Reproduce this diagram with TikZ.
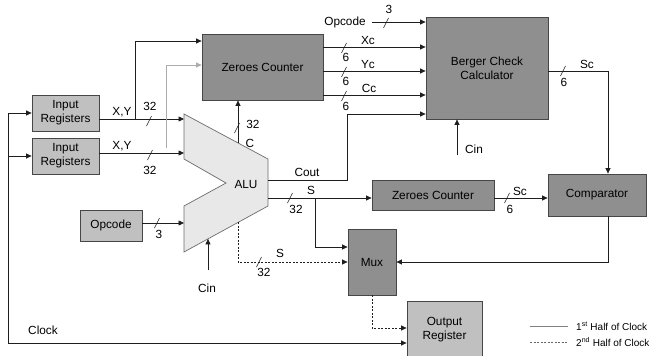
\documentclass[tikz,border=0pt]{standalone}
\usepackage{fontspec}
\setmainfont{Liberation Sans}
\usetikzlibrary{arrows.meta,calc}
\definecolor{dbox}{RGB}{143,143,143}
\definecolor{lbox}{RGB}{192,192,192}
\definecolor{alufill}{RGB}{232,232,232}
\definecolor{edge}{RGB}{70,70,70}
\definecolor{wirec}{RGB}{30,30,30}
\begin{document}
\begin{tikzpicture}[x=1pt,y=-1pt, font=\fontsize{11.8}{14}\selectfont,
 dark/.style={draw=edge, fill=dbox, inner sep=0pt, align=center, line width=0.8pt},
 light/.style={draw=edge, fill=lbox, inner sep=0pt, align=center, line width=0.8pt},
 wire/.style={draw=wirec, line width=0.7pt},
 arr/.style={wire, -{Triangle[length=5.5pt,width=5pt]}},
 dwire/.style={wire, dash pattern=on 2pt off 1.5pt},
 darr/.style={dwire, -{Triangle[length=5.5pt,width=5pt]}},
 lbl/.style={inner sep=0pt},
 busmark/.pic={\draw[wirec, line width=0.6pt] (-2.5,5) -- (2.5,-5);}
]
\useasboundingbox (0,0) rectangle (649,356);

% boxes
\node[light, minimum width=67pt, minimum height=36pt] (ir1) at (65.5,113) {Input\\Registers};
\node[light, minimum width=67pt, minimum height=36pt] (ir2) at (65.5,156) {Input\\Registers};
\node[light, minimum width=62pt, minimum height=31pt] (opc) at (111,225.5) {Opcode};
\node[dark, minimum width=121pt, minimum height=66pt] (zc1) at (262.5,67) {Zeroes Counter};
\node[dark, minimum width=122pt, minimum height=102pt] (bcc) at (487,68) {Berger Check\\Calculator};
\node[dark, minimum width=122pt, minimum height=30pt] (zc2) at (433,195) {Zeroes Counter};
\node[dark, minimum width=98pt, minimum height=42pt] (cmp) at (597,195) {Comparator};
\node[dark, minimum width=48pt, minimum height=66pt] (mux) at (372,262) {Mux};
\node[light, minimum width=75pt, minimum height=57pt] (outreg) at (444.5,329.5) {Output\\Register};

% ALU
\draw[draw=gray!85!black, fill=alufill, line width=0.7pt] (184,114) -- (268,159) -- (268,206) -- (184,252) -- (184,206) -- (226,183) -- (184,159) -- cycle;
\node[lbl] (alu) at (246,184) {ALU};
\coordinate (aluA) at (184,119);
\coordinate (aluB) at (184,153);
\coordinate (aluC) at (184,223);
\coordinate (aluCin) at (208,238.9);
\coordinate (aluCo) at (238,142.9);
\coordinate (aluCout) at (268,180);
\coordinate (aluS) at (268,198);
\coordinate (aluSd) at (238,222.4);

% clock
\coordinate (clkT) at (8,113);
\coordinate (clkM) at (8,156);
\coordinate (clkB) at (8,343);
\draw[wire] (clkB) -- (clkT);
\draw[arr] (clkT) -- (ir1.west);
\draw[arr] (clkM) -- (ir2.west);
\draw[arr] (clkB) -- (clkB -| outreg.west);
\node[lbl] (clklbl) at (43,330) {Clock};

% register outputs
\draw[arr] (ir1.east |- aluA) -- (aluA);
\coordinate (brA) at (135,119);
\coordinate (brAt) at (135,41);
\draw[arr] (brA) -- (brAt) -- (brAt -| zc1.west);
\draw[arr] (ir2.east |- aluB) -- (aluB);
\coordinate (gB) at (166,148);
\coordinate (gT) at (166,65);
\draw[arr, draw=gray!65, line width=0.8pt] (gB) -- (gT) -- (gT -| zc1.west);
\node[lbl] (xy1) at (122,112) {X,Y};
\node[lbl] (n32a) at (150,106) {32};
\pic at (149,121) {busmark};
\node[lbl] (xy2) at (122,146) {X,Y};
\node[lbl] (n32b) at (150,170) {32};
\pic at (150,155) {busmark};

% opcode to ALU
\draw[arr] (opc.east |- aluC) -- (aluC);
\pic at (157,223) {busmark};
\node[lbl] (n3a) at (159,234) {3};

% Cin ALU
\coordinate (cinA) at (208,270);
\draw[arr] (cinA) -- (aluCin);
\node[lbl] (cin1) at (207,288) {Cin};

% C to zeroes counter
\draw[arr] (aluCo) -- (aluCo |- zc1.south);
\pic at (237,128) {busmark};
\node[lbl] (n32c) at (253,124) {32};
\node[lbl] (clbl) at (250,143) {C};

% zeroes counter to Berger
\coordinate (rowXc) at (0,47);
\coordinate (rowYc) at (0,71);
\coordinate (rowCc) at (0,95);
\draw[arr] (zc1.east |- rowXc) -- (bcc.west |- rowXc);
\draw[arr] (zc1.east |- rowYc) -- (bcc.west |- rowYc);
\draw[arr] (zc1.east |- rowCc) -- (bcc.west |- rowCc);
\pic at (344,48) {busmark};
\pic at (344,72) {busmark};
\pic at (344,96) {busmark};
\node[lbl] (xc) at (368,40) {Xc};
\node[lbl] (yc) at (368,64) {Yc};
\node[lbl] (cc) at (369,88) {Cc};
\node[lbl] (n6a) at (346,57) {6};
\node[lbl] (n6b) at (346,81) {6};
\node[lbl] (n6c) at (346,106) {6};

% opcode top
\node[lbl] (opt) at (345,22) {Opcode};
\draw[arr] ([xshift=6pt]opt.east) -- (bcc.west |- opt.east);
\pic at (386,23) {busmark};
\node[lbl] (n3b) at (389,9) {3};

% Cout
\coordinate (coutK) at (347,180);
\coordinate (coutT) at (347,114);
\draw[arr] (aluCout) -- (coutK) -- (coutT) -- (coutT -| bcc.west);
\node[lbl] (cout) at (307,172) {Cout};

% S
\draw[arr] (aluS) -- (aluS -| zc2.west);
\coordinate (sBr) at (315,198);
\coordinate (sBrB) at (315,247);
\draw[arr] (sBr) -- (sBrB) -- (sBrB -| mux.west);
\pic at (290,198) {busmark};
\node[lbl] (slbl) at (311,190) {S};
\node[lbl] (n32d) at (296,209) {32};

% dashed S
\coordinate (dB) at (238,262);
\draw[darr] (aluSd) -- (dB) -- (dB -| mux.west);
\pic at (259,262) {busmark};
\node[lbl] (sdlbl) at (280,253) {S};
\node[lbl] (n32e) at (264,272) {32};

% zc2 to comparator
\draw[arr] (zc2.east |- aluS) -- (cmp.west |- aluS);
\pic at (507,198) {busmark};
\node[lbl] (sc2) at (520,191) {Sc};
\node[lbl] (n6e) at (510,209) {6};

% Berger to comparator
\coordinate (scR) at (608,71);
\draw[arr] (bcc.east |- scR) -- (scR) -- (scR |- cmp.north);
\pic at (563,71) {busmark};
\node[lbl] (sc1) at (587,64) {Sc};
\node[lbl] (n6d) at (564,82) {6};

% Cin Berger
\coordinate (cinB) at (457,155);
\draw[arr] (cinB) -- (cinB |- bcc.south);
\node[lbl] (cin2) at (474,149) {Cin};

% comparator to mux
\coordinate (cmB) at (608,262);
\draw[arr] (cmB |- cmp.south) -- (cmB) -- (cmB -| mux.east);

% mux to output register
\coordinate (mo) at (372,328);
\draw[darr] (mux.south) -- (mo) -- (mo -| outreg.west);

% legend
\coordinate (lg1a) at (530,326);
\coordinate (lg1b) at (568,326);
\coordinate (lg2a) at (530,342);
\coordinate (lg2b) at (568,342);
\draw[draw=gray, line width=0.6pt] (lg1a) -- (lg1b);
\draw[draw=gray!80!black, line width=0.6pt, dash pattern=on 2pt off 1.5pt] (lg2a) -- (lg2b);
\node[lbl, anchor=west, font=\fontsize{10}{11}\selectfont] (lg1) at (576,326) {1\textsuperscript{st} Half of Clock};
\node[lbl, anchor=west, font=\fontsize{10}{11}\selectfont] (lg2) at (576,342) {2\textsuperscript{nd} Half of Clock};
\end{tikzpicture}
\end{document}
